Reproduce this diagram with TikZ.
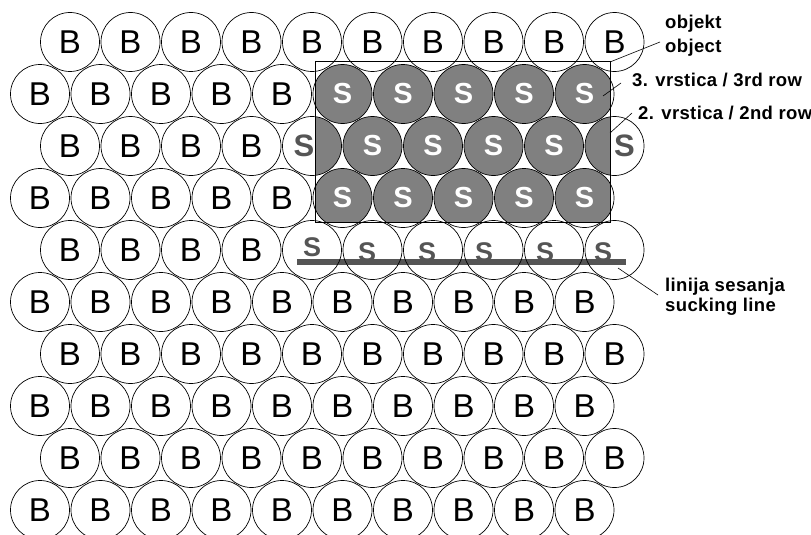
\documentclass[tikz,border=0pt]{standalone}
\usepackage{fontspec}
\setmainfont{Liberation Sans}
\newfontfamily\lblfont[LetterSpace=2,BoldFont={Liberation Sans Bold}]{Liberation Sans}
\usetikzlibrary{calc}
\definecolor{objgray}{RGB}{128,128,128}
\definecolor{linegray}{RGB}{85,85,85}

\begin{document}
\begin{tikzpicture}[x=1pt, y=-1pt,
    kreis/.style={draw, circle, minimum size=59pt, inner sep=0pt, line width=0.7pt},
    bball/.style={inner sep=0pt, font=\fontsize{33}{33}\selectfont},
    sball/.style={inner sep=0pt, font=\bfseries\fontsize{#1}{#1}\selectfont},
    sball/.default=29,
    lbl/.style={inner sep=0pt, align=left, font=\lblfont\bfseries\fontsize{18.5}{20}\selectfont},
    leader/.style={line width=0.6pt}]
    %Bildbereich
    \useasboundingbox (0,0) rectangle (811,535);
    \clip (0,0) rectangle (811,535);
    %Objekt grau fuellen
    \coordinate (objNW) at (315,62);
    \coordinate (objSE) at (610,222);
    \begin{scope}
      \clip (objNW) rectangle (objSE);
      \foreach \r in {2,3,4} {
        \pgfmathsetmacro\xo{mod(\r,2)==1 ? 70 : 40}
        \foreach \k in {0,...,9}
          \fill[objgray] ({\xo+60.5*\k},{42+52*(\r-1)}) circle[radius=29.5pt];
      }
    \end{scope}
    %Linija sesanja
    \coordinate (lineW) at (297,262);
    \coordinate (lineE) at (626,262);
    \draw[linegray, line width=5.5pt] (lineW) -- (lineE);
    %Kreise zeichnen
    \foreach \r in {1,...,10} {
      \pgfmathsetmacro\xo{mod(\r,2)==1 ? 70 : 40}
      \foreach \k in {0,...,9}
        \node[kreis] (k-\r-\k) at ({\xo+60.5*\k},{42+52*(\r-1)}) {};
    }
    \draw[line width=1pt] (objNW) rectangle (objSE);
    %Buchstaben B
    \foreach \r/\n in {1/9,2/4,3/3,4/4,5/3,6/9,7/9,8/9,9/9,10/9}
      \foreach \k in {0,...,\n}
        \node[bball] (b-\r-\k) at (k-\r-\k) {B};
    %Buchstaben S im Objekt
    \foreach \r/\a/\b in {2/5/9,3/5/8,4/5/9}
      \foreach \k in {\a,...,\b}
        \node[sball, white] (s-\r-\k) at (k-\r-\k) {S};
    \node[sball=31, linegray] (s-3-4) at ($(k-3-4)+(-8,0)$) {S};
    \node[sball=31, linegray] (s-3-9) at ($(k-3-9)+(10,0)$) {S};
    %Buchstaben S an der Linie
    \foreach \k/\x/\y in {4/312/247,5/367/252,6/427/252,7/484/252,8/545/252,9/603/252}
      \node[sball=27, linegray] (s-5-\k) at (\x,\y) {S};
    %Beschriftung
    \node[lbl, anchor=north west] (objlbl) at (665,15) {objekt\\[3.4pt]object};
    \node[lbl, anchor=base west] (rowthree) at (632,86) {3. vrstica / 3rd row};
    \node[lbl, anchor=base west] (rowtwo) at (638,119) {2. vrstica / 2nd row};
    \node[lbl, anchor=north west] (linelbl) at (665,278) {linija sesanja\\sucking line};
    \coordinate (rowthreetip) at (603,96);
    \coordinate (rowtwotip) at (610,133);
    \coordinate (linetip) at (618,268);
    \draw[leader] (objSE |- objNW) -- ($(objlbl.north west)+(-5,27)$);
    \draw[leader] (rowthreetip) -- ($(rowthree.base west)+(-11,-3)$);
    \draw[leader] (rowtwotip) -- ($(rowtwo.base west)+(-6,-6)$);
    \draw[leader] (linetip) -- ($(linelbl.north west)+(-7,17)$);
\end{tikzpicture}
\end{document}
